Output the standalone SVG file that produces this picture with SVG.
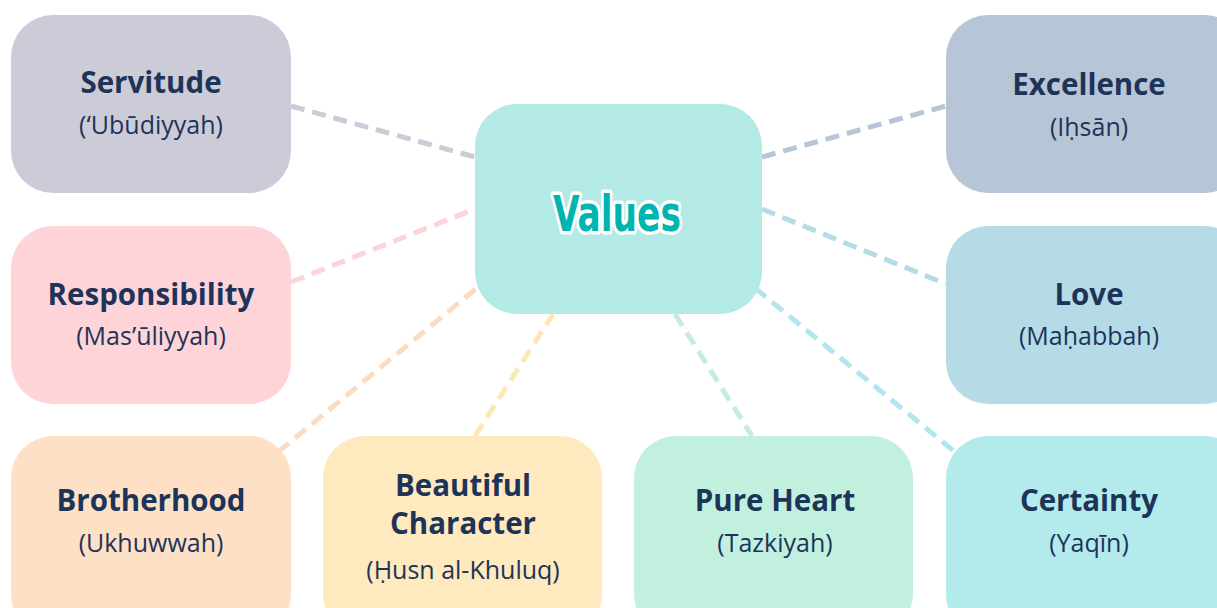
<svg xmlns="http://www.w3.org/2000/svg" width="1217" height="608" viewBox="0 0 1217 608">
<style>
.t{font-family:"Open Sans","Noto Sans","Liberation Sans",sans-serif;font-weight:700;font-size:29.5px;fill:#1d3458;text-anchor:middle}
.s{font-family:"Open Sans","Noto Sans","Liberation Sans",sans-serif;font-weight:400;font-size:25px;fill:#1d3458;text-anchor:middle}
.c{fill:none;stroke-width:5;stroke-dasharray:14 8}
.v{font-family:"DejaVu Sans Condensed","DejaVu Sans",sans-serif;font-weight:700;font-size:50px;fill:#00b4b0;stroke:#fff;stroke-width:7;paint-order:stroke;stroke-linejoin:round;text-anchor:middle}
</style>
<rect width="1217" height="608" fill="#fff"/>
<g id="connectors">
<line class="c" x1="291" y1="106" x2="475" y2="157" stroke="#cccbd8"/>
<line class="c" x1="762" y1="157" x2="946" y2="106" stroke="#b7c6d6"/>
<line class="c" x1="291" y1="282" x2="475" y2="209" stroke="#fcd4d8"/>
<line class="c" x1="762" y1="209" x2="946" y2="284" stroke="#b5dce6"/>
<line class="c" x1="278" y1="452" x2="478" y2="287" stroke="#fcdcc0"/>
<line class="c" x1="475" y1="436" x2="553" y2="314" stroke="#fde8b5"/>
<line class="c" x1="675" y1="314" x2="752" y2="436" stroke="#c6ecdc"/>
<line class="c" x1="755" y1="288" x2="955" y2="452" stroke="#b3e6ec"/>
</g>
<g id="values">
<rect x="475" y="104" width="287" height="210" rx="42" fill="#b3eae6"/>
<text class="v" x="617" y="231" textLength="128" lengthAdjust="spacingAndGlyphs">Values</text>
</g>
<g id="servitude">
<rect x="11" y="15" width="280" height="178" rx="42" fill="#cccbd8"/>
<text class="t" x="151" y="93">Servitude</text>
<text class="s" x="151" y="134">(ʻUbūdiyyah)</text>
</g>
<g id="excellence">
<rect x="946" y="15" width="300" height="178" rx="42" fill="#b7c6d6"/>
<text class="t" x="1089" y="95">Excellence</text>
<text class="s" x="1089" y="136">(Iḥsān)</text>
</g>
<g id="responsibility">
<rect x="11" y="226" width="280" height="178" rx="42" fill="#ffd4d8"/>
<text class="t" x="151" y="305">Responsibility</text>
<text class="s" x="151" y="345">(Mas’ūliyyah)</text>
</g>
<g id="love">
<rect x="946" y="226" width="300" height="178" rx="42" fill="#b5dce6"/>
<text class="t" x="1089" y="305">Love</text>
<text class="s" x="1089" y="345">(Maḥabbah)</text>
</g>
<g id="brotherhood">
<rect x="11" y="436" width="280" height="200" rx="42" fill="#fde0c6"/>
<text class="t" x="151" y="511">Brotherhood</text>
<text class="s" x="151" y="552">(Ukhuwwah)</text>
</g>
<g id="beautiful-character">
<rect x="323" y="436" width="279" height="200" rx="42" fill="#ffe9bf"/>
<text class="t" x="463" y="496">Beautiful</text>
<text class="t" x="463" y="534">Character</text>
<text class="s" x="463" y="579">(Ḥusn al-Khuluq)</text>
</g>
<g id="pure-heart">
<rect x="634" y="436" width="279" height="200" rx="42" fill="#c2f0df"/>
<text class="t" x="775" y="511">Pure Heart</text>
<text class="s" x="775" y="552">(Tazkiyah)</text>
</g>
<g id="certainty">
<rect x="946" y="436" width="300" height="200" rx="42" fill="#b3eaec"/>
<text class="t" x="1089" y="511">Certainty</text>
<text class="s" x="1089" y="552">(Yaqīn)</text>
</g>
</svg>
